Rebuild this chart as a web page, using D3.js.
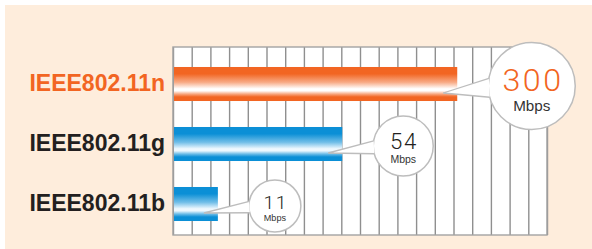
<!DOCTYPE html>
<html>
<head>
<meta charset="utf-8">
<script src="https://cdn.jsdelivr.net/npm/d3@7"></script>
<style>
  html, body { margin: 0; padding: 0; background: #fff; }
  svg { display: block; }
</style>
</head>
<body>
<div id="chart"></div>
<script>
// données
const categories = ["IEEE802.11n", "IEEE802.11g", "IEEE802.11b"];
const speeds = [300, 54, 11];
const unitLabel = "Mbps";
const gridColumns = 20;

const width = 592;
const height = 249;
const margin = { top: 47, right: 45, bottom: 14, left: 173 };

const svg = d3.select("#chart")
    .append("svg")
    .attr("width", width)
    .attr("height", height);

// fond beige
svg.append("rect")
    .attr("x", 5).attr("y", 5)
    .attr("width", width - 5).attr("height", height - 5)
    .attr("fill", "#feeddc");

const defs = svg.append("defs");
function addGradient(id, color, light) {
    const g = defs.append("linearGradient")
        .attr("id", id)
        .attr("x1", 0).attr("y1", 0).attr("x2", 0).attr("y2", 1);
    [[0, color], [0.2, color], [0.45, d3.interpolateRgb(color, light)(0.45)],
     [0.64, light], [0.7, light], [0.8, d3.interpolateRgb(color, light)(0.4)],
     [0.88, color], [1, color]]
        .forEach(([o, c]) => g.append("stop").attr("offset", o).attr("stop-color", c));
}
addGradient("gradOrange", "#f26522", "#ffffff");
addGradient("gradBlue", "#0b8fd6", "#eef8fe");

const innerW = width - margin.left - margin.right;
const innerH = height - margin.top - margin.bottom;

// échelle de la grille (colonnes)
const gridScale = d3.scaleLinear()
    .domain([0, gridColumns])
    .range([margin.left, width - margin.right]);

// les barres ne sont pas proportionnelles : échelle par morceaux (vitesse -> colonnes)
const speedScale = d3.scaleLinear()
    .domain([0, 11, 54, 300])
    .range([0, 2.4, 9.05, 15.2]);

const yScale = d3.scaleBand()
    .domain(categories)
    .range([54, 234])
    .paddingInner(0.433)
    .paddingOuter(0.2165);

// rayon des bulles
const bubbleScale = d3.scaleLinear()
    .domain([11, 54, 300])
    .range([26, 30, 43.5]);

// zone blanche
svg.append("rect")
    .attr("x", margin.left).attr("y", margin.top)
    .attr("width", innerW).attr("height", innerH)
    .attr("fill", "#fff");

const gridAxis = d3.axisBottom(gridScale)
    .ticks(gridColumns)
    .tickSize(-innerH)
    .tickFormat("");

svg.append("g")
    .attr("transform", `translate(0,${margin.top + innerH})`)
    .call(gridAxis)
    .call(g => g.select(".domain").remove())
    .selectAll("line")
    .attr("stroke", "#8f8f8f")
    .attr("stroke-width", 1.4);

svg.append("rect")
    .attr("x", margin.left).attr("y", margin.top)
    .attr("width", innerW).attr("height", innerH)
    .attr("fill", "none")
    .attr("stroke", "#a3a3a3")
    .attr("stroke-width", 1.4);

// barres
const bars = categories.map((c, i) => ({
    label: c,
    value: speeds[i],
    highlight: i === 0
}));

svg.selectAll(".bar")
    .data(bars)
    .enter()
    .append("rect")
    .attr("class", "bar")
    .attr("x", gridScale(0) + 1)
    .attr("y", d => yScale(d.label))
    .attr("width", d => gridScale(speedScale(d.value)) - gridScale(0) - 1)
    .attr("height", yScale.bandwidth())
    .attr("fill", d => d.highlight ? "url(#gradOrange)" : "url(#gradBlue)");

// libellés
svg.selectAll(".label")
    .data(bars)
    .enter()
    .append("text")
    .attr("class", "label")
    .attr("x", 165)
    .attr("y", d => yScale(d.label) + yScale.bandwidth() / 2 + 7)
    .attr("text-anchor", "end")
    .attr("font-family", "'Liberation Sans', Arial, sans-serif")
    .attr("font-weight", "bold")
    .attr("font-size", "23px")
    .attr("fill", d => d.highlight ? "#f26522" : "#231f20")
    .text(d => d.label);

// bulles
svg.selectAll(".bubble")
    .data(bars)
    .enter()
    .append("g")
    .attr("class", "bubble")
    .each(function (d) {
        const g = d3.select(this);
        const end = gridScale(speedScale(d.value));
        const mid = yScale(d.label) + yScale.bandwidth() / 2;
        const r = bubbleScale(d.value);
        const cx = end + r + 31;
        const cy = mid + 2;
        const a1 = 165 * Math.PI / 180, a2 = 190 * Math.PI / 180;
        const p1 = [cx + r * Math.cos(a1), cy + r * Math.sin(a1)];
        const p2 = [cx + r * Math.cos(a2), cy + r * Math.sin(a2)];
        const tip = [end - 14, mid + 9];

        g.append("circle")
            .attr("cx", cx).attr("cy", cy).attr("r", r)
            .attr("fill", "#fff")
            .attr("stroke", "#bdbdbd")
            .attr("stroke-width", 1.5);

        g.append("path")
            .attr("d", `M${p1[0]},${p1[1]}L${tip[0]},${tip[1]}L${p2[0]},${p2[1]}`)
            .attr("fill", "#fff")
            .attr("stroke", "#bdbdbd")
            .attr("stroke-width", 1.3);

        const fs = r * 0.74;
        g.append("text")
            .attr("x", cx + fs * 0.04)
            .attr("y", cy + r * 0.11)
            .attr("text-anchor", "middle")
            .attr("font-family", "Roboto, 'Open Sans', sans-serif")
            .attr("font-weight", 300)
            .attr("font-size", fs + "px")
            .attr("letter-spacing", (fs * 0.08) + "px")
            .attr("fill", d.highlight ? "#f26522" : "#231f20")
            .text(d.value);

        g.append("text")
            .attr("x", cx)
            .attr("y", cy + r * 0.58)
            .attr("text-anchor", "middle")
            .attr("font-family", "'Liberation Sans', Arial, sans-serif")
            .attr("font-size", (r * 0.35) + "px")
            .attr("fill", "#333")
            .text(unitLabel);
    });
</script>
</body>
</html>
